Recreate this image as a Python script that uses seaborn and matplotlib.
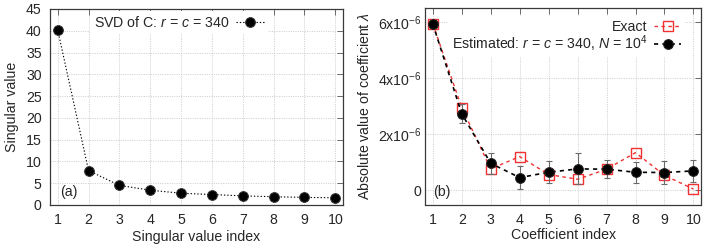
import numpy as np
import pandas as pd
import matplotlib
matplotlib.use("Agg")
import matplotlib.pyplot as plt
import seaborn as sns

# ---- data ----
sv_index = [1, 2, 3, 4, 5, 6, 7, 8, 9, 10]
sv_values = [40.2, 7.9, 4.5, 3.4, 2.7, 2.4, 2.1, 1.9, 1.75, 1.65]

coef_index = [1, 2, 3, 4, 5, 6, 7, 8, 9, 10]
exact_vals = [5.95e-6, 2.96e-6, 0.77e-6, 1.21e-6, 0.57e-6, 0.40e-6, 0.76e-6, 1.35e-6, 0.54e-6, 0.05e-6]
est_vals = [5.95e-6, 2.74e-6, 0.97e-6, 0.46e-6, 0.65e-6, 0.77e-6, 0.76e-6, 0.65e-6, 0.64e-6, 0.70e-6]
est_err = [0.12e-6, 0.33e-6, 0.37e-6, 0.42e-6, 0.40e-6, 0.55e-6, 0.33e-6, 0.38e-6, 0.42e-6, 0.40e-6]

left_yticks = [0, 5, 10, 15, 20, 25, 30, 35, 40, 45]
right_yticks = [0, 2e-6, 4e-6, 6e-6]
right_yticklabels = ["0", r"2x10$^{-6}$", r"4x10$^{-6}$", r"6x10$^{-6}$"]

# ---- style ----
sns.set_style("white")
plt.rcParams["font.family"] = ["Liberation Sans", "DejaVu Sans"]
plt.rcParams["mathtext.fontset"] = "custom"
plt.rcParams["mathtext.rm"] = "Liberation Sans"
plt.rcParams["mathtext.it"] = "Liberation Sans:italic"
FS = 10.2

fig = plt.figure(figsize=(7.06, 2.46), dpi=100)
axL = fig.add_axes([50 / 706, 41 / 246, 293 / 706, 196 / 246])
axR = fig.add_axes([425.5 / 706, 41.5 / 246, 275.2 / 706, 196.2 / 246])

grid_kw = dict(color="#c4c4c4", linestyle=(0, (1.2, 1.6)), linewidth=0.6)

def style_axes(ax):
    ax.set_xlim(0.75, 10.25)
    ax.set_xticks(range(1, 11))
    ax.grid(True, **grid_kw)
    ax.set_axisbelow(True)
    for s in ax.spines.values():
        s.set_color("#3a3a3a")
        s.set_linewidth(0.9)
        s.set_visible(True)
    ax.tick_params(direction="in", top=True, right=True, length=4, width=0.6,
                   color="#555555", labelsize=FS, pad=6)

# ---- left panel ----
dfL = pd.DataFrame({"idx": sv_index, "val": sv_values})
sns.lineplot(data=dfL, x="idx", y="val", ax=axL, color="black", marker="o",
             markersize=7.0, markerfacecolor="black", markeredgecolor="#333333",
             linewidth=0.8, label="SVD of C: $r$ = $c$ = 340")
axL.lines[-1].set_linestyle((0, (1.2, 1.8)))
style_axes(axL)
axL.set_ylim(0, 45)
axL.set_yticks(left_yticks)
axL.set_xlabel("Singular value index", fontsize=FS)
axL.set_ylabel("Singular value", fontsize=FS)
axL.xaxis.label.set_va("center")
axL.xaxis.set_label_coords(0.5, -0.162)
axL.yaxis.label.set_va("center")
axL.yaxis.set_label_coords(-0.13, 0.5)
axL.text(10 / 293, 13 / 196, "(a)", transform=axL.transAxes, fontsize=FS,
         ha="left", va="center")
legL = axL.legend(loc="center", bbox_to_anchor=(0.44, 0.932), fontsize=FS,
                  markerfirst=False, frameon=True, framealpha=1, edgecolor="white",
                  facecolor="white", fancybox=False, handlelength=2.0,
                  handletextpad=0.45, borderpad=0.25)
legL.get_frame().set_linewidth(0)

# ---- right panel ----
dfE = pd.DataFrame({"idx": coef_index, "val": exact_vals})
dfS = pd.DataFrame({"idx": coef_index, "val": est_vals, "err": est_err})
red = "#f03232"
sns.lineplot(data=dfE, x="idx", y="val", ax=axR, color=red, marker="s",
             markersize=7.3, markerfacecolor="none", markeredgecolor=red,
             markeredgewidth=1.0, linewidth=1.0, label="Exact", zorder=3)
axR.lines[-1].set_linestyle((0, (2.5, 2.5)))
axR.errorbar(coef_index, est_vals, yerr=est_err, fmt="none", ecolor="#6a6a6a",
             elinewidth=0.8, capsize=2, capthick=0.8, zorder=4)
sns.lineplot(data=dfS, x="idx", y="val", ax=axR, color="black", marker="o",
             markersize=7.0, markerfacecolor="black", markeredgecolor="#222222",
             linewidth=1.2, label="Estimated: $r$ = $c$ = 340, $N$ = 10$^4$", zorder=5)
axR.lines[-1].set_linestyle((0, (2.5, 2.5)))
style_axes(axR)
axR.tick_params(axis="y", pad=3)
axR.set_ylim(-0.5e-6, 6.5e-6)
axR.set_yticks(right_yticks)
axR.set_yticklabels(right_yticklabels)
axR.set_xlabel("Coefficient index", fontsize=FS)
axR.set_ylabel("Absolute value of coefficient $\\lambda$", fontsize=FS)
axR.xaxis.label.set_va("center")
axR.xaxis.set_label_coords(0.5, -0.156)
axR.yaxis.label.set_va("center")
axR.yaxis.set_label_coords(-0.222, 0.5)
axR.text(7.5 / 275, 12 / 196, "(b)", transform=axR.transAxes, fontsize=FS,
         ha="left", va="center")
legR = axR.legend(loc="upper right", bbox_to_anchor=(0.967, 0.995), fontsize=FS,
                  markerfirst=False, frameon=True, framealpha=1, edgecolor="white",
                  facecolor="white", fancybox=False, handlelength=1.9,
                  handletextpad=0.5, borderpad=0.25, labelspacing=-0.05)
legR.get_frame().set_linewidth(0)

fig.savefig("out.png", dpi=100)
